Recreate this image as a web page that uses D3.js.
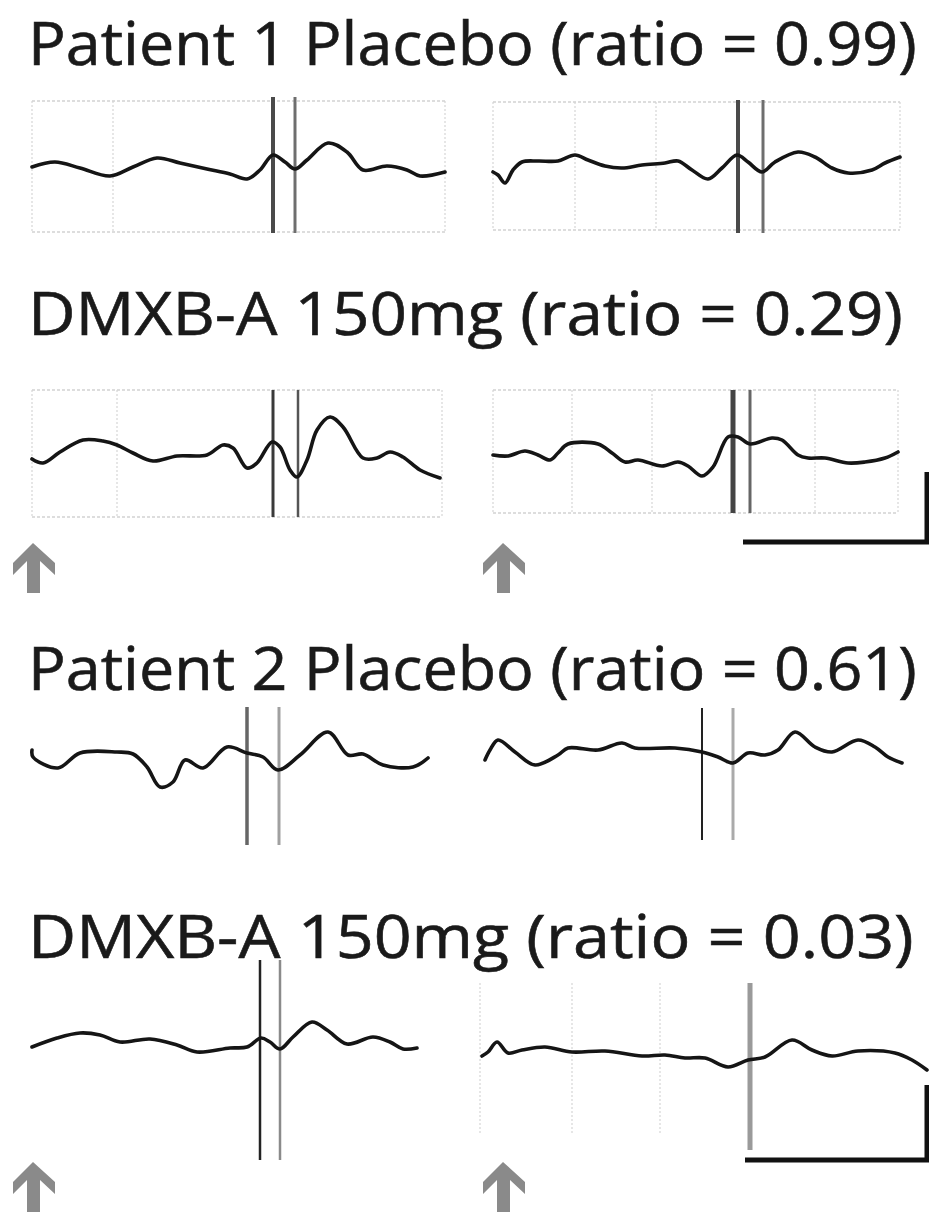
<!DOCTYPE html>
<html>
<head>
<meta charset="utf-8">
<script src="https://cdn.jsdelivr.net/npm/d3@7/dist/d3.min.js"></script>
<style>
  body { margin: 0; background: #fff; }
</style>
</head>
<body>
<div id="fig"></div>
<script>
// titles of the four rows
const titles = [
  "Patient 1 Placebo (ratio = 0.99)",
  "DMXB-A 150mg (ratio = 0.29)",
  "Patient 2 Placebo (ratio = 0.61)",
  "DMXB-A 150mg (ratio = 0.03)"
];

// traces: [time ms, amplitude uV]
const p1PlaceboL = [[0,0],[11.5,2.5],[24,-0.5],[39,-4.5],[50.5,0],[62.5,4.5],[74,2],[87.5,-1],[99,-3.5],[107.5,-6],[114,-1.5],[120.5,6],[126.5,2.5],[131.5,-1],[137.5,3.5],[148,12],[157.5,7.5],[165.5,-1.5],[177.5,0.5],[187.5,-1.5],[194,-4.5],[206.5,-2.5]];
const p1PlaceboR = [[0,-3],[2.5,-4.5],[6,-8.5],[10,-2],[14.5,2],[22.5,2.5],[32.5,2.5],[41,5.5],[47.5,3],[56,0],[64.5,-1],[74.5,0.5],[86,1.5],[92.5,2.5],[99.5,-2],[107.5,-6.5],[114.5,-1],[122,5.5],[127.5,2],[134.5,-3],[141,2],[152.5,7],[161,4.5],[169.5,-1],[177.5,-3.5],[189.5,-2],[196,1.5],[203.5,4.5]];
const p1DrugL = [[0,-2.5],[5.5,-4.5],[14,1],[25.5,7],[35.5,6.5],[42.5,4.5],[50.5,0.5],[60.5,-3.5],[72.5,-1],[87.5,-0.5],[95.5,4.5],[100.5,3],[107.5,-7],[112.5,-4.5],[120,6],[124,3.5],[129,-8],[132.5,-11.5],[137.5,-3],[142.5,12],[149,18.5],[155.5,13.5],[165.5,-2],[172.5,-2],[179,1],[185.5,-1.5],[194,-8],[204,-12]];
const p1DrugR = [[0,-1],[7.5,-1.5],[16,1],[22.5,-1],[28.5,-3.5],[32.5,0],[37.5,4.5],[52.5,4.5],[59.5,0],[66,-4.5],[72.5,-3.5],[84.5,-6.5],[92.5,-4.5],[97.5,-6.5],[104.5,-11.5],[110,-7],[117.5,8],[122.5,8],[128.5,4.5],[139.5,7.5],[144.5,6.5],[152.5,-1],[157.5,-2.5],[166,-2.5],[177.5,-5],[186,-4.5],[196,-2.5],[202.5,0.5]];
const p2PlaceboL = [[0,2.5],[0.5,-1],[13,-6.5],[24,1],[42.5,1.5],[50.5,0.5],[57.5,-6],[64,-16],[70.5,-13.5],[76.5,-2.5],[85.5,-6.5],[97.5,4],[107.5,1],[115.5,-1],[123,-7.5],[134,0],[148,11.5],[158,0],[165.5,0.5],[175.5,-5],[190.5,-6],[198,-1.5]];
const p2PlaceboR = [[0,-4],[2.5,1],[6.5,6],[15,0],[25,-6.5],[36.5,-1.5],[41.5,2],[56.5,1],[68.5,4.5],[75,2],[95,2],[108.5,0],[116.5,-2.5],[124,-5.5],[131.5,-0.5],[140,-1.5],[146.5,1],[155,10],[165,2.5],[173.5,0],[186.5,6],[195,2.5],[201.5,-2.5],[208.5,-5.5]];
const p2DrugL = [[0,-2.5],[12.5,2],[24,4.5],[34,3.5],[44,0],[59,1.5],[72.5,-1.5],[82.5,-5],[99,-3],[107.5,-2.5],[114.5,2],[119,0],[124,-3.5],[130.5,2.5],[140,10],[147.5,6],[157.5,-1],[170.5,2.5],[179,0],[185.5,-3.5],[192.5,-3]];
const p2DrugR = [[0,-0.5],[3,1.5],[7.5,6.5],[13,1],[20,2.5],[31.5,4],[45,1.5],[61.5,2],[80,-0.5],[91.5,0],[101.5,-1.5],[111.5,-1.5],[123,-6],[133,-2.5],[141.5,-1],[155,7.5],[165,2.5],[175,-0.5],[188,2],[206.5,1],[215,-2.5],[222.5,-7.5]];

// conditioning / test click markers (ms), per panel
const markerTimes = [[120.5,131.5],[122.5,135],[120.5,133],[120,128.5],[107.5,123.5],[108.5,124],[114,124],[134]];
const markerSpan = [[35,-33],[33,-33.5],[32,-31.5],[31.5,-30],[24,-45],[22,-44],[41,-59],[36,-47.5]];

// faint recording grid (ms) and its amplitude extent
const gridTimes = [[0,40.5,206.5],[0,41,81.5,203.5],[0,42.5,205],[0,39.5,79.5,161,202.5],[],[],[],[-1,45,89]];
const gridSpan = [[33,-32.5],[32,-32],[32,-31.5],[31.5,-30],null,null,null,[36,-40]];

// stimulus arrows: [time ms, amplitude of tip]
const arrows = [null,null,[0.5,-44.5],[5,-45],null,null,[0.5,-60],[10.5,-53.5]];
// scale bars: [corner time, corner amp, length ms, height uV]
const scaleBars = [null,null,null,[217,-44.5,92,35],null,null,null,[222.5,-52.5,91,37.5]];

const W = 929, H = 1213;
const svg = d3.select("#fig").append("svg")
    .attr("width", W)
    .attr("height", H);

// title layout: squeeze the text horizontally to the width it has in the figure
const titleY = [65, 335, 690, 958];
const titleW = [889, 875, 889, 886];
titles.forEach((t, i) => {
  var txt = svg.append("text")
    .attr("x", 0)
    .attr("y", 0)
    .attr("font-family", "Open Sans")
    .attr("font-size", 60)
    .attr("fill", "#1a1a1a")
    .attr("stroke", "#1a1a1a")
    .attr("stroke-width", 0.6)
    .text(t);
  var natural = txt.node().getComputedTextLength();
  var sx = titleW[i] / natural;
  txt.attr("transform", "translate(28," + titleY[i] + ") scale(" + sx + ",1)");
});

// panel layout: origin of time axis and baseline
const panels = [
  {left: 32,  mid: 167,  data: p1PlaceboL, mk: ["#4a4a4a", "#6e6e6e"], mw: [4, 3]},
  {left: 493, mid: 166,  data: p1PlaceboR, mk: ["#4a4a4a", "#6e6e6e"], mw: [4, 3]},
  {left: 32,  mid: 454,  data: p1DrugL,    mk: ["#3a3a3a", "#555"],    mw: [3, 2.5]},
  {left: 493, mid: 453,  data: p1DrugR,    mk: ["#444", "#666"],       mw: [5, 3]},
  {left: 32,  mid: 755,  data: p2PlaceboL, mk: ["#666", "#a0a0a0"],    mw: [3.5, 3]},
  {left: 485, mid: 752,  data: p2PlaceboR, mk: ["#222", "#aaa"],       mw: [2, 3]},
  {left: 32,  mid: 1042, data: p2DrugL,    mk: ["#222", "#8a8a8a"],    mw: [2.5, 2.5]},
  {left: 482, mid: 1055, data: p2DrugR,    mk: ["#9a9a9a"],            mw: [5]}
];

panels.forEach((p, i) => {
  var x = d3.scaleLinear().domain([0, 100]).range([p.left, p.left + 200]);
  var y = d3.scaleLinear().domain([-50, 50]).range([p.mid + 100, p.mid - 100]);
  var g = svg.append("g").attr("class", "panel");

  // grid
  if (gridSpan[i]) {
    var gs = gridSpan[i];
    var gt = gridTimes[i];
    g.selectAll(".gv").data(gt).enter().append("line")
      .attr("x1", d => x(d)).attr("x2", d => x(d))
      .attr("y1", y(gs[0])).attr("y2", y(gs[1]))
      .style("stroke", "#d6d6d6")
      .style("stroke-width", 1.2)
      .style("stroke-dasharray", "2,2");
    if (i < 4) {
      g.selectAll(".gh").data(gs).enter().append("line")
        .attr("x1", x(d3.min(gt))).attr("x2", x(d3.max(gt)))
        .attr("y1", d => y(d)).attr("y2", d => y(d))
        .style("stroke", "#d2d2d2")
        .style("stroke-width", 1.5)
        .style("stroke-dasharray", "3,2");
    }
  }

  // click markers
  g.selectAll(".mk").data(markerTimes[i]).enter().append("line")
    .attr("x1", d => x(d)).attr("x2", d => x(d))
    .attr("y1", y(markerSpan[i][0])).attr("y2", y(markerSpan[i][1]))
    .style("stroke", (d, j) => p.mk[j])
    .style("stroke-width", (d, j) => p.mw[j]);

  // trace
  var line = d3.line()
    .x(d => x(d[0]))
    .y(d => y(d[1]))
    .curve(d3.curveCatmullRom.alpha(0.5));
  g.append("path")
    .datum(p.data)
    .attr("d", line)
    .style("fill", "none")
    .style("stroke", "#151515")
    .style("stroke-width", 3.6)
    .style("stroke-linejoin", "round")
    .style("stroke-linecap", "round");

  // stimulus arrow
  if (arrows[i]) {
    var ax = x(arrows[i][0]), ay = y(arrows[i][1]);
    g.append("path")
      .attr("d", "M" + ax + "," + ay +
        " L" + (ax + 22) + "," + (ay + 20) + " L" + (ax + 22) + "," + (ay + 32) +
        " L" + (ax + 7) + "," + (ay + 18) + " L" + (ax + 7) + "," + (ay + 50) +
        " L" + (ax - 6) + "," + (ay + 50) + " L" + (ax - 6) + "," + (ay + 18) +
        " L" + (ax - 20) + "," + (ay + 32) + " L" + (ax - 20) + "," + (ay + 20) + "Z")
      .style("fill", "#8a8a8a");
  }

  // scale bar
  if (scaleBars[i]) {
    var s = scaleBars[i];
    g.append("path")
      .attr("d", "M" + x(s[0] - s[2]) + "," + y(s[1]) +
        " L" + x(s[0]) + "," + y(s[1]) + " L" + x(s[0]) + "," + y(s[1] + s[3]))
      .style("fill", "none")
      .style("stroke", "#111")
      .style("stroke-width", 5);
  }
});
</script>
</body>
</html>
